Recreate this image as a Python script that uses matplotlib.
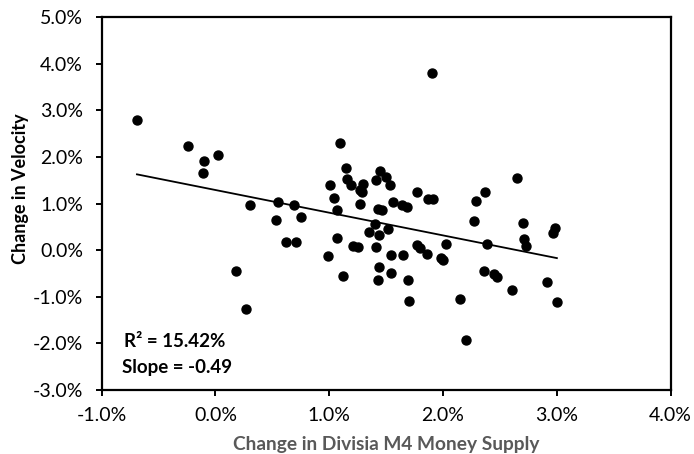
import numpy as np
import matplotlib.pyplot as plt
from matplotlib.ticker import FuncFormatter

plt.rcParams['font.family'] = ['Lato', 'DejaVu Sans']

# Change in Divisia M4 money supply (%), change in velocity (%)
money = [-0.69, -0.24, -0.10, -0.11, 0.02, 0.18, 0.27, 0.30, 0.53, 0.55,
         0.62, 0.69, 0.71, 0.75, 0.99, 1.01, 1.04, 1.07, 1.07, 1.09,
         1.12, 1.15, 1.16, 1.19, 1.21, 1.25, 1.27, 1.29, 1.30, 1.27,
         1.35, 1.40, 1.41, 1.45, 1.50, 1.535, 1.43, 1.46, 1.41, 1.44,
         1.515, 1.44, 1.43, 1.54, 1.54, 1.56, 1.64, 1.685, 1.65, 1.69,
         1.70, 1.77, 1.77, 1.80, 1.855, 1.87, 1.91, 1.90, 1.98, 2.00,
         2.03, 2.15, 2.20, 2.27, 2.285, 2.36, 2.37, 2.39, 2.45, 2.47,
         2.61, 2.65, 2.70, 2.71, 2.73, 2.91, 2.98, 2.97, 3.00]
velocity = [2.79, 2.23, 1.92, 1.65, 2.05, -0.44, -1.26, 0.97, 0.64, 1.04,
            0.18, 0.97, 0.18, 0.71, -0.13, 1.40, 1.13, 0.86, 0.27, 2.30,
            -0.56, 1.76, 1.53, 1.40, 0.10, 0.07, 1.29, 1.24, 1.42, 0.99,
            0.39, 0.57, 1.51, 1.70, 1.57, 1.40, 0.88, 0.86, 0.07, 0.32,
            0.45, -0.36, -0.65, -0.49, -0.11, 1.04, 0.97, 0.93, -0.11, -0.65,
            -1.10, 1.245, 0.12, 0.05, -0.08, 1.10, 1.10, 3.80, -0.16, -0.22,
            0.14, -1.05, -1.93, 0.62, 1.06, -0.44, 1.24, 0.14, -0.52, -0.58,
            -0.85, 1.56, 0.59, 0.23, 0.08, -0.69, 0.48, 0.38, -1.12]

x = np.array(money) / 100
y = np.array(velocity) / 100

fig = plt.figure(figsize=(6.94, 4.54), dpi=100)
ax = fig.add_axes([0.1465, 0.141, 0.8199, 0.821])

ax.scatter(x, y, s=42, color='black', zorder=3)

# linear trend line
k, b = np.polyfit(x, y, 1)
xs = np.array([x.min(), x.max()])
ax.plot(xs, k * xs + b, color='black', lw=1.3, zorder=2)

ax.set_xlim(-0.01, 0.04)
ax.set_ylim(-0.03, 0.05)
ax.set_xticks(np.arange(-0.01, 0.0401, 0.01))
ax.set_yticks(np.arange(-0.03, 0.0501, 0.01))
pct = FuncFormatter(lambda v, p: '{:.1f}%'.format(v * 100))
ax.xaxis.set_major_formatter(pct)
ax.yaxis.set_major_formatter(pct)

for s in ax.spines.values():
    s.set_linewidth(1.6)
    s.set_color('black')
ax.tick_params(direction='out', length=4.5, width=1.4, labelsize=14,
               colors='black')
ax.tick_params(axis='x', pad=8)
ax.tick_params(axis='y', pad=9)

ax.set_xlabel('Change in Divisia M4 Money Supply', fontsize=13.8, fontweight='bold',
              color='#595959')
ax.xaxis.label.set_va('center')
ax.xaxis.set_label_coords(0.5, -0.146)
ax.set_ylabel('Change in Velocity', fontsize=13, fontweight='bold', color='black')
ax.yaxis.label.set_va('center')
ax.yaxis.set_label_coords(-0.142, 0.54)

ax.text(0.04, 0.13, 'R² = 15.42%', transform=ax.transAxes, fontsize=13.5,
        fontweight='bold', va='center', ha='left')
ax.text(0.035, 0.061, 'Slope = -0.49', transform=ax.transAxes, fontsize=13.5,
        fontweight='bold', va='center', ha='left')

fig.savefig('out.png', dpi=100)
